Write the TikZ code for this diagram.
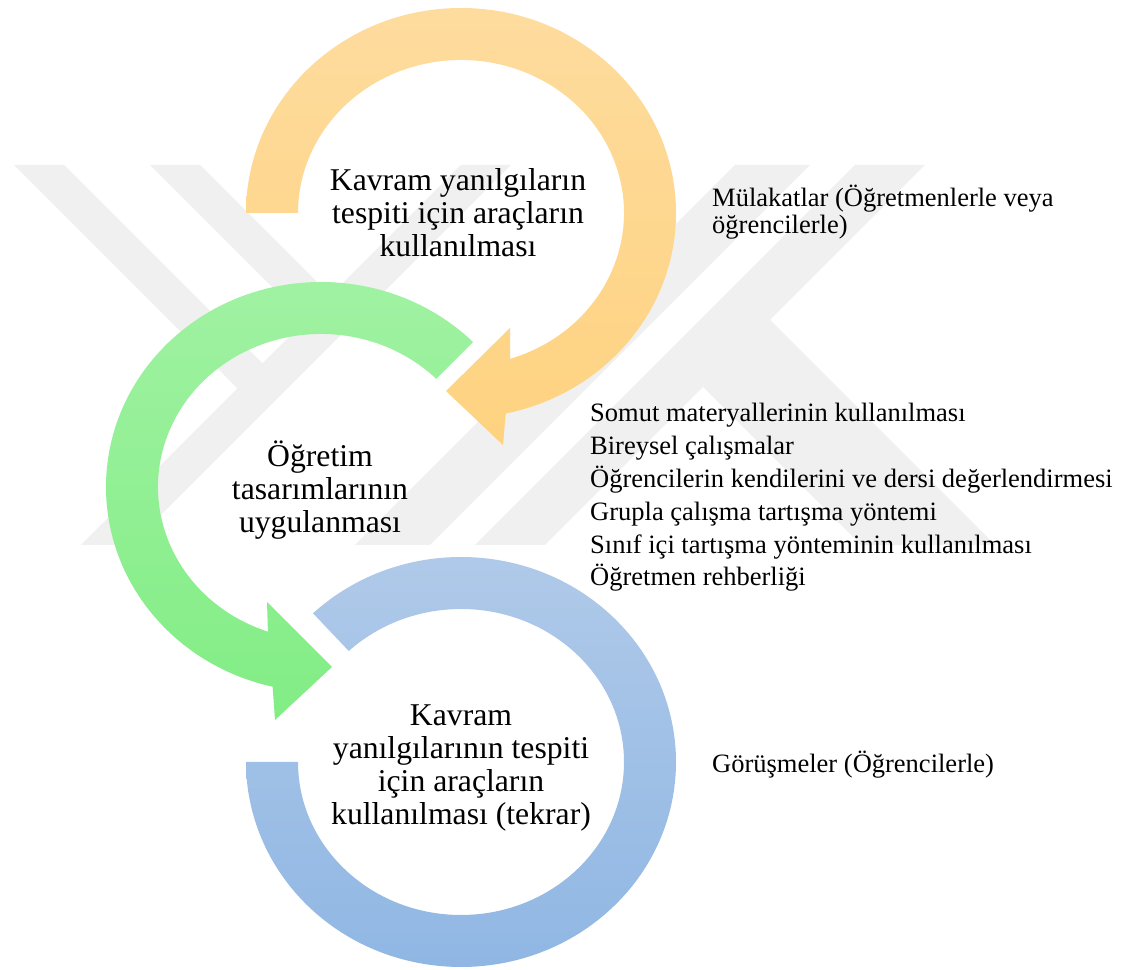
\documentclass[tikz,border=0pt]{standalone}
\usepackage{fontspec}
\setmainfont{Liberation Serif}
\usetikzlibrary{calc}
\definecolor{ringorangetop}{RGB}{254,220,158}
\definecolor{ringorangebot}{RGB}{254,210,128}
\definecolor{ringgreentop}{RGB}{161,242,163}
\definecolor{ringgreenbot}{RGB}{130,237,133}
\definecolor{ringbluetop}{RGB}{177,202,233}
\definecolor{ringbluebot}{RGB}{142,182,227}
\definecolor{markgrey}{RGB}{240,240,240}
\tikzset{
  ringtext/.style={align=center, inner sep=0pt, anchor=base,
    font=\fontsize{31.7bp}{33bp}\selectfont},
  notetext/.style={align=left, inner sep=0pt, anchor=base west,
    font=\fontsize{26.5bp}{27bp}\selectfont},
  listtext/.style={notetext, font=\fontsize{26.5bp}{32.8bp}\selectfont},
  watermark/.style={fill=markgrey}
}

\begin{document}
\begin{tikzpicture}[x=1bp,y=1bp]
  \fill[white] (0,0) rectangle (1123,970);
  \path[use as bounding box] (0,0) rectangle (1123,970);

  % faint logo behind everything
  \fill[watermark] (14,805) -- (64,805) -- (262.5,606.5) -- (461,805) -- (511,805)
    -- (131,425) -- (81,425) -- (237.5,581.5) -- cycle;
  \fill[watermark] (150,805) -- (200,805) -- (330.5,674.5) -- (305.5,649.5) -- cycle;
  \fill[watermark] (735,805) -- (810,805) -- (430,425) -- (355,425) -- cycle;
  \fill[watermark] (855,805) -- (925,805) -- (545,425) -- (475,425) -- cycle;
  \fill[watermark] (770,650) -- (995,425) -- (861,425) -- (703,583) -- cycle;

  \coordinate (oc) at (461,757);
  \coordinate (gc) at (321,483);
  \coordinate (bc) at (461,208);

  % top ring, bends into the second one
  \shade[top color=ringorangetop, bottom color=ringorangebot]
    ($(oc)+(180:215 and 205)$) arc[start angle=180, end angle=-78, x radius=215, y radius=205]
    -- ($(oc)+(42,-232)$) -- ($(oc)+(-15,-178)$) -- ($(oc)+(49,-115)$)
    -- ($(oc)+(-72.5:163 and 153)$) arc[start angle=-72.5, end angle=180, x radius=163, y radius=153]
    -- cycle;

  % middle ring
  \shade[top color=ringgreentop, bottom color=ringgreenbot]
    ($(gc)+(45:215 and 205)$) arc[start angle=45, end angle=257, x radius=215, y radius=205]
    -- ($(gc)+(-46,-233)$) -- ($(gc)+(11,-180)$) -- ($(gc)+(-54,-115)$)
    -- ($(gc)+(251:163 and 153)$) arc[start angle=251, end angle=45, x radius=163, y radius=153]
    -- cycle;

  % bottom ring, no head
  \shade[top color=ringbluetop, bottom color=ringbluebot]
    ($(bc)+(133.5:215 and 205)$) arc[start angle=133.5, end angle=-180, x radius=215, y radius=205]
    -- ($(bc)+(180:163 and 153)$) arc[start angle=-180, end angle=133.5, x radius=163, y radius=153]
    -- cycle;

  % base anchor sits on the last line
  \node[ringtext] (step1) at (458,713.3) {Kavram yanılgıların\\tespiti için araçların\\kullanılması};
  \node[ringtext] (step2) at (320,437) {Öğretim\\tasarımlarının\\uygulanması};
  \node[ringtext] (step3) at (461,145) {Kavram\\yanılgılarının tespiti\\için araçların\\kullanılması (tekrar)};

  \node[notetext] (note1) at (712,736.3) {Mülakatlar (Öğretmenlerle veya\\öğrencilerle)};
  \node[listtext] (note2) at (590,384.1) {Somut materyallerinin kullanılması\\Bireysel çalışmalar\\Öğrencilerin kendilerini ve dersi değerlendirmesi\\Grupla çalışma tartışma yöntemi\\Sınıf içi tartışma yönteminin kullanılması\\Öğretmen rehberliği};
  \node[notetext] (note3) at (712,197) {Görüşmeler (Öğrencilerle)};
\end{tikzpicture}
\end{document}
